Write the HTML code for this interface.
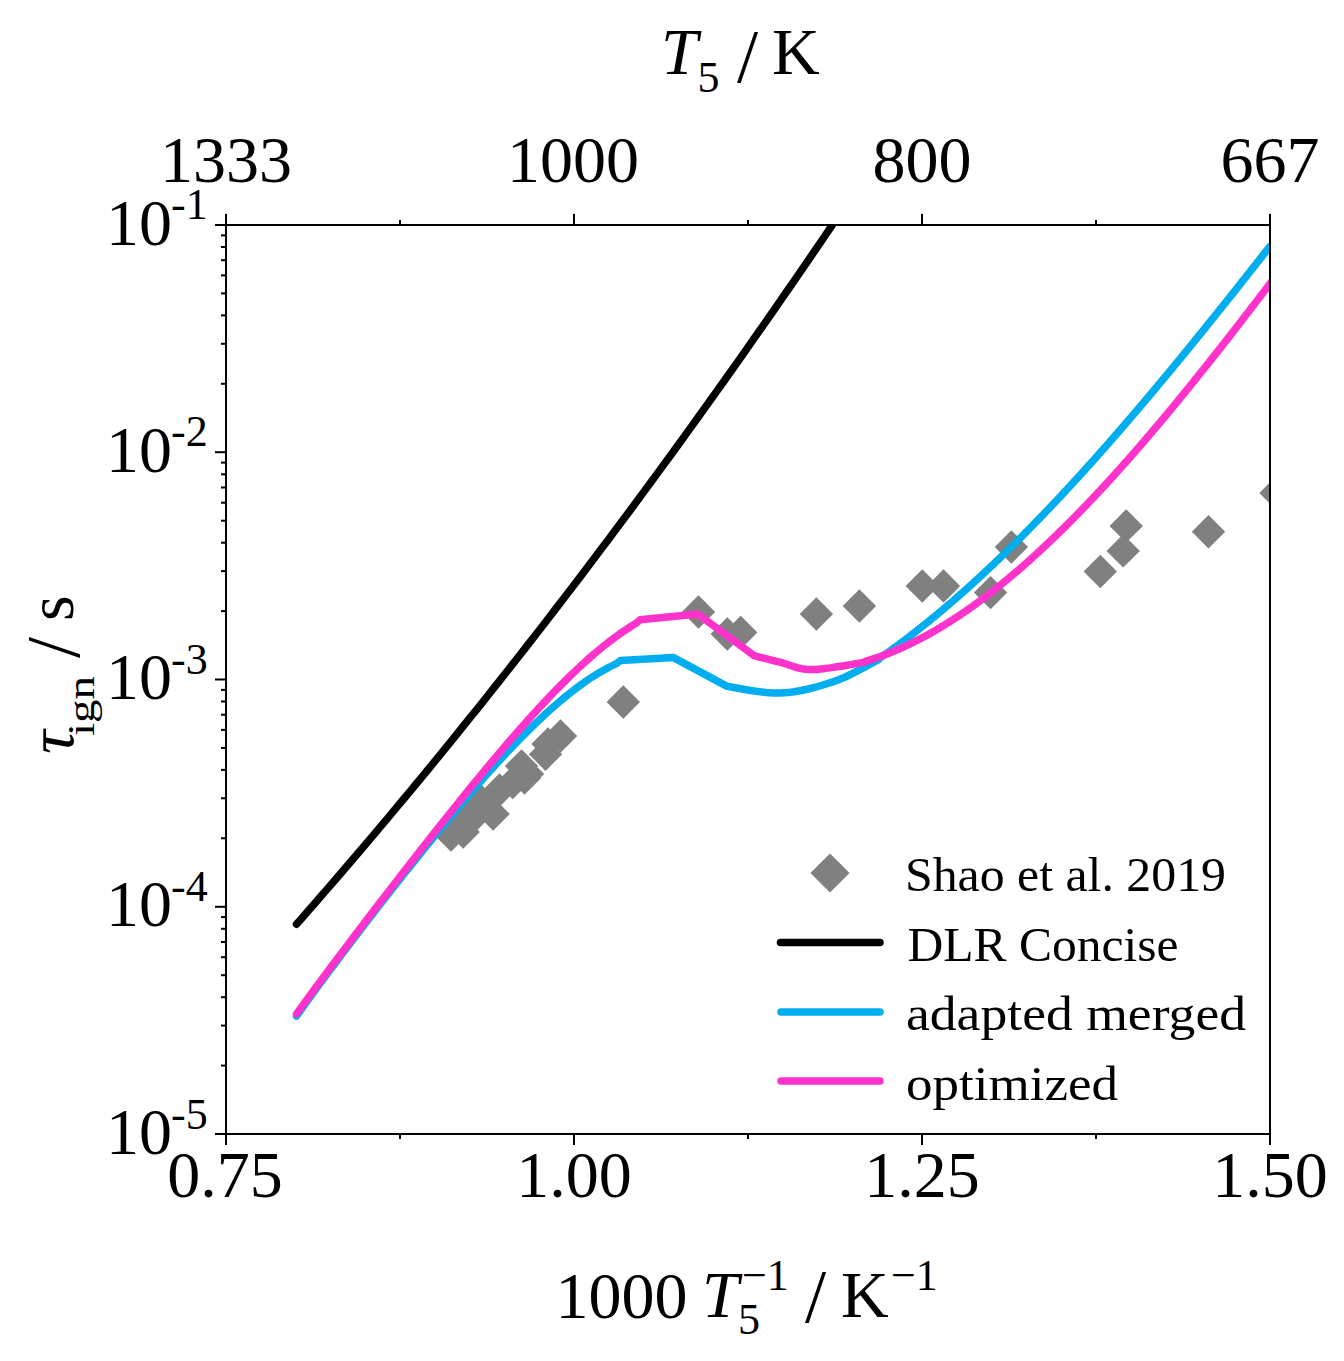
<!DOCTYPE html><html><head><meta charset="utf-8"><style>
html,body{margin:0;padding:0;background:#fff;width:1344px;height:1361px;overflow:hidden}
svg{display:block}
text{font-family:"Liberation Serif",serif;fill:#000}
</style></head><body>
<svg width="1344" height="1361" viewBox="0 0 1344 1361">
<defs><clipPath id="c"><rect x="226" y="225" width="1044" height="909"/></clipPath></defs>
<rect width="1344" height="1361" fill="#fff"/>

<g clip-path="url(#c)" fill="#808080">
<path d="M451.0 818.3L467.7 835.0L451.0 851.7L434.3 835.0Z"/>
<path d="M457.0 804.3L473.7 821.0L457.0 837.7L440.3 821.0Z"/>
<path d="M463.2 815.3L479.9 832.0L463.2 848.7L446.5 832.0Z"/>
<path d="M471.5 802.3L488.2 819.0L471.5 835.7L454.8 819.0Z"/>
<path d="M466.0 796.3L482.7 813.0L466.0 829.7L449.3 813.0Z"/>
<path d="M480.0 783.3L496.7 800.0L480.0 816.7L463.3 800.0Z"/>
<path d="M493.1 797.3L509.8 814.0L493.1 830.7L476.4 814.0Z"/>
<path d="M499.5 773.3L516.2 790.0L499.5 806.7L482.8 790.0Z"/>
<path d="M512.7 765.8L529.4 782.5L512.7 799.2L496.0 782.5Z"/>
<path d="M521.5 749.3L538.2 766.0L521.5 782.7L504.8 766.0Z"/>
<path d="M527.5 757.3L544.2 774.0L527.5 790.7L510.8 774.0Z"/>
<path d="M524.5 761.3L541.2 778.0L524.5 794.7L507.8 778.0Z"/>
<path d="M545.5 737.5L562.2 754.2L545.5 770.9L528.8 754.2Z"/>
<path d="M548.0 727.3L564.7 744.0L548.0 760.7L531.3 744.0Z"/>
<path d="M560.5 719.3L577.2 736.0L560.5 752.7L543.8 736.0Z"/>
<path d="M623.3 685.3L640.0 702.0L623.3 718.7L606.6 702.0Z"/>
<path d="M698.5 595.3L715.2 612.0L698.5 628.7L681.8 612.0Z"/>
<path d="M727.3 617.3L744.0 634.0L727.3 650.7L710.6 634.0Z"/>
<path d="M740.7 615.8L757.4 632.5L740.7 649.2L724.0 632.5Z"/>
<path d="M816.4 597.3L833.1 614.0L816.4 630.7L799.7 614.0Z"/>
<path d="M859.4 589.3L876.1 606.0L859.4 622.7L842.7 606.0Z"/>
<path d="M922.3 569.3L939.0 586.0L922.3 602.7L905.6 586.0Z"/>
<path d="M943.5 569.3L960.2 586.0L943.5 602.7L926.8 586.0Z"/>
<path d="M990.6 575.9L1007.3 592.6L990.6 609.3L973.9 592.6Z"/>
<path d="M1011.4 530.3L1028.1 547.0L1011.4 563.7L994.7 547.0Z"/>
<path d="M1100.3 554.8L1117.0 571.5L1100.3 588.2L1083.6 571.5Z"/>
<path d="M1123.2 534.2L1139.9 550.9L1123.2 567.6L1106.5 550.9Z"/>
<path d="M1126.2 509.2L1142.9 525.9L1126.2 542.6L1109.5 525.9Z"/>
<path d="M1208.5 515.1L1225.2 531.8L1208.5 548.5L1191.8 531.8Z"/>
<path d="M1276.0 476.3L1292.7 493.0L1276.0 509.7L1259.3 493.0Z"/>
</g>
<g clip-path="url(#c)" fill="none" stroke-linejoin="round" stroke-linecap="round">
<polyline points="296.5,924.2 302.5,917.4 308.5,910.6 314.5,903.7 320.5,896.8 326.5,889.9 332.5,883.0 338.5,876.0 344.5,869.0 350.5,862.0 356.5,855.0 362.5,848.0 368.5,840.9 374.5,833.8 380.5,826.7 386.5,819.6 392.5,812.4 398.5,805.2 404.5,798.0 410.5,790.8 416.5,783.5 422.5,776.3 428.5,769.0 434.5,761.7 440.5,754.3 446.5,746.9 452.5,739.6 458.5,732.1 464.5,724.7 470.5,717.2 476.5,709.8 482.5,702.3 488.5,694.7 494.5,687.2 500.5,679.6 506.5,672.0 512.5,664.4 518.5,656.8 524.5,649.1 530.5,641.4 536.5,633.7 542.5,626.0 548.5,618.2 554.5,610.4 560.5,602.6 566.5,594.8 572.5,586.9 578.5,579.1 584.5,571.2 590.5,563.2 596.5,555.3 602.5,547.3 608.5,539.4 614.5,531.3 620.5,523.3 626.5,515.3 632.5,507.2 638.5,499.1 644.5,490.9 650.5,482.8 656.5,474.6 662.5,466.4 668.5,458.2 674.5,450.0 680.5,441.7 686.5,433.4 692.5,425.1 698.5,416.8 704.5,408.4 710.5,400.0 716.5,391.6 722.5,383.2 728.5,374.8 734.5,366.3 740.5,357.8 746.5,349.3 752.5,340.7 758.5,332.2 764.5,323.6 770.5,315.0 776.5,306.4 782.5,297.7 788.5,289.0 794.5,280.3 800.5,271.6 806.5,262.8 812.5,254.1 818.5,245.3 824.5,236.5 830.5,227.6 836.5,218.8 842.5,209.9 848.5,201.0" stroke="#000" stroke-width="7.5"/>
<polyline points="296.5,1016.1 300.5,1010.5 304.5,1004.9 308.5,999.4 312.5,993.9 316.5,988.4 320.5,982.9 324.5,977.5 328.5,972.1 332.5,966.7 336.5,961.4 340.5,956.0 344.5,950.7 348.5,945.4 352.5,940.2 356.5,934.9 360.5,929.7 364.5,924.5 368.5,919.3 372.5,914.1 376.5,908.9 380.5,903.8 384.5,898.7 388.5,893.6 392.5,888.5 396.5,883.4 400.5,878.4 404.5,873.3 408.5,868.3 412.5,863.3 416.5,858.3 420.5,853.3 424.5,848.4 428.5,843.5 432.5,838.6 436.5,833.7 440.5,828.8 444.5,824.0 448.5,819.2 452.5,814.4 456.5,809.6 460.5,804.9 464.5,800.2 468.5,795.5 472.5,790.9 476.5,786.3 480.5,781.7 484.5,777.1 488.5,772.6 492.5,768.2 496.5,763.8 500.5,759.4 504.5,755.1 508.5,750.8 512.5,746.6 516.5,742.4 520.5,738.3 524.5,734.3 528.5,730.3 532.5,726.3 536.5,722.5 540.5,718.7 544.5,714.9 548.5,711.3 552.5,707.7 556.5,704.2 560.5,700.8 564.5,697.5 568.5,694.2 572.5,691.1 576.5,688.0 580.5,685.1 584.5,682.2 588.5,679.5 592.5,676.9 596.5,674.3 600.5,672.0 604.5,669.7 608.5,667.5 612.5,665.5 616.5,663.6 620.5,660.4 673.6,657.6 727.1,686.4 731.2,687.0 736.7,688.0 743.3,689.2 750.6,690.5 758.3,691.6 766.1,692.5 773.7,693.1 780.7,693.1 787.4,692.6 794.3,691.7 801.2,690.5 808.0,689.0 814.7,687.3 821.3,685.5 827.6,683.5 833.6,681.6 839.5,679.4 845.3,677.0 851.1,674.2 856.6,671.4 861.7,668.7 866.4,666.2 870.4,664.0 873.7,662.2 876.1,660.9 877.7,660.1 878.6,659.5 879.0,659.1 879.1,658.9 879.2,658.6 879.5,658.4 880.0,657.9 880.8,657.4 881.5,656.9 882.3,656.4 883.0,655.8 883.8,655.3 884.5,654.8 885.3,654.3 886.0,653.8 886.8,653.2 887.5,652.7 888.2,652.2 889.0,651.6 889.8,651.1 890.5,650.5 891.2,650.0 892.0,649.5 892.8,648.9 893.5,648.4 894.2,647.8 895.0,647.3 895.8,646.7 896.5,646.2 897.2,645.6 898.0,645.1 898.8,644.5 899.5,644.0 900.2,643.4 901.0,642.9 901.8,642.3 902.5,641.8 903.2,641.2 904.0,640.6 904.8,640.1 905.5,639.5 906.2,638.9 907.0,638.4 907.8,637.8 908.5,637.2 909.2,636.7 910.0,636.1 910.8,635.5 911.5,634.9 912.2,634.3 913.0,633.8 913.8,633.2 914.5,632.6 915.2,632.0 916.0,631.4 916.8,630.8 917.5,630.3 918.2,629.7 919.0,629.1 919.8,628.5 920.5,627.9 921.2,627.3 922.0,626.7 922.8,626.1 923.5,625.5 924.2,624.9 925.0,624.3 925.8,623.7 926.5,623.1 927.2,622.5 928.0,621.9 928.8,621.3 929.5,620.7 930.2,620.1 931.0,619.5 931.8,618.8 932.5,618.2 933.2,617.6 934.0,617.0 934.8,616.4 935.5,615.8 936.2,615.1 937.0,614.5 937.8,613.9 938.5,613.3 939.2,612.6 940.0,612.0 940.8,611.4 941.5,610.8 942.2,610.1 943.0,609.5 943.8,608.9 944.5,608.2 945.2,607.6 946.0,607.0 946.8,606.3 947.5,605.7 948.2,605.0 949.0,604.4 949.8,603.7 950.5,603.1 951.2,602.5 952.0,601.8 952.8,601.2 953.5,600.5 954.2,599.9 955.0,599.2 955.8,598.6 956.5,597.9 957.2,597.2 958.0,596.6 958.8,595.9 959.5,595.3 960.2,594.6 961.0,593.9 961.8,593.3 962.5,592.6 963.2,592.0 964.0,591.3 964.8,590.6 965.5,589.9 966.2,589.3 967.0,588.6 967.8,587.9 968.5,587.3 969.2,586.6 970.0,585.9 970.8,585.2 971.5,584.6 972.2,583.9 973.0,583.2 973.8,582.5 974.5,581.8 975.2,581.1 976.0,580.5 976.8,579.8 977.5,579.1 978.2,578.4 979.0,577.7 979.8,577.0 980.5,576.3 981.2,575.6 982.0,574.9 982.8,574.2 983.5,573.5 984.2,572.8 985.0,572.1 985.8,571.4 986.5,570.7 987.2,570.0 988.0,569.3 988.8,568.6 989.5,567.9 990.2,567.2 991.0,566.5 991.8,565.8 992.5,565.1 993.2,564.4 994.0,563.7 994.8,562.9 995.5,562.2 996.2,561.5 997.0,560.8 997.8,560.1 998.5,559.4 999.2,558.6 1000.0,557.9 1000.8,557.2 1001.5,556.5 1002.2,555.7 1003.0,555.0 1003.8,554.3 1004.5,553.6 1005.2,552.8 1006.0,552.1 1006.8,551.4 1007.5,550.6 1008.2,549.9 1009.0,549.2 1009.8,548.4 1010.5,547.7 1011.2,547.0 1012.0,546.2 1012.8,545.5 1013.5,544.7 1014.2,544.0 1015.0,543.3 1015.8,542.5 1016.5,541.8 1017.2,541.0 1018.0,540.3 1018.8,539.5 1019.5,538.8 1020.2,538.0 1021.0,537.3 1021.8,536.5 1022.5,535.8 1023.2,535.0 1024.0,534.3 1024.8,533.5 1025.5,532.7 1026.2,532.0 1027.0,531.2 1027.8,530.5 1028.5,529.7 1029.2,528.9 1030.0,528.2 1030.8,527.4 1031.5,526.7 1032.2,525.9 1033.0,525.1 1033.8,524.4 1034.5,523.6 1035.2,522.8 1036.0,522.0 1036.8,521.3 1037.5,520.5 1038.2,519.7 1039.0,518.9 1039.8,518.2 1040.5,517.4 1041.2,516.6 1042.0,515.8 1042.8,515.1 1043.5,514.3 1044.2,513.5 1045.0,512.7 1045.8,511.9 1046.5,511.1 1047.2,510.4 1048.0,509.6 1048.8,508.8 1049.5,508.0 1050.2,507.2 1051.0,506.4 1051.8,505.6 1052.5,504.8 1053.2,504.0 1054.0,503.2 1054.8,502.5 1055.5,501.7 1056.2,500.9 1057.0,500.1 1057.8,499.3 1058.5,498.5 1059.2,497.7 1060.0,496.9 1060.8,496.1 1061.5,495.3 1062.2,494.5 1063.0,493.7 1063.8,492.8 1064.5,492.0 1065.2,491.2 1066.0,490.4 1066.8,489.6 1067.5,488.8 1068.2,488.0 1069.0,487.2 1069.8,486.4 1070.5,485.6 1071.2,484.7 1072.0,483.9 1072.8,483.1 1073.5,482.3 1074.2,481.5 1075.0,480.7 1075.8,479.8 1076.5,479.0 1077.2,478.2 1078.0,477.4 1078.8,476.6 1079.5,475.7 1080.2,474.9 1081.0,474.1 1081.8,473.3 1082.5,472.4 1083.2,471.6 1084.0,470.8 1084.8,470.0 1085.5,469.1 1086.2,468.3 1087.0,467.5 1087.8,466.6 1088.5,465.8 1089.2,465.0 1090.0,464.1 1090.8,463.3 1091.5,462.5 1092.2,461.6 1093.0,460.8 1093.8,459.9 1094.5,459.1 1095.2,458.3 1096.0,457.4 1096.8,456.6 1097.5,455.7 1098.2,454.9 1099.0,454.0 1099.8,453.2 1100.5,452.4 1101.2,451.5 1102.0,450.7 1102.8,449.8 1103.5,449.0 1104.2,448.1 1105.0,447.3 1105.8,446.4 1106.5,445.6 1107.2,444.7 1108.0,443.9 1108.8,443.0 1109.5,442.1 1110.2,441.3 1111.0,440.4 1111.8,439.6 1112.5,438.7 1113.2,437.9 1114.0,437.0 1114.8,436.1 1115.5,435.3 1116.2,434.4 1117.0,433.6 1117.8,432.7 1118.5,431.8 1119.2,431.0 1120.0,430.1 1120.8,429.2 1121.5,428.4 1122.2,427.5 1123.0,426.6 1123.8,425.8 1124.5,424.9 1125.2,424.0 1126.0,423.2 1126.8,422.3 1127.5,421.4 1128.2,420.5 1129.0,419.7 1129.8,418.8 1130.5,417.9 1131.2,417.1 1132.0,416.2 1132.8,415.3 1133.5,414.4 1134.2,413.5 1135.0,412.7 1135.8,411.8 1136.5,410.9 1137.2,410.0 1138.0,409.1 1138.8,408.3 1139.5,407.4 1140.2,406.5 1141.0,405.6 1141.8,404.7 1142.5,403.9 1143.2,403.0 1144.0,402.1 1144.8,401.2 1145.5,400.3 1146.2,399.4 1147.0,398.5 1147.8,397.6 1148.5,396.8 1149.2,395.9 1150.0,395.0 1150.8,394.1 1151.5,393.2 1152.2,392.3 1153.0,391.4 1153.8,390.5 1154.5,389.6 1155.2,388.7 1156.0,387.8 1156.8,386.9 1157.5,386.0 1158.2,385.1 1159.0,384.2 1159.8,383.3 1160.5,382.4 1161.2,381.5 1162.0,380.6 1162.8,379.7 1163.5,378.8 1164.2,377.9 1165.0,377.0 1165.8,376.1 1166.5,375.2 1167.2,374.3 1168.0,373.4 1168.8,372.5 1169.5,371.6 1170.2,370.7 1171.0,369.8 1171.8,368.9 1172.5,368.0 1173.2,367.1 1174.0,366.2 1174.8,365.2 1175.5,364.3 1176.2,363.4 1177.0,362.5 1177.8,361.6 1178.5,360.7 1179.2,359.8 1180.0,358.9 1180.8,358.0 1181.5,357.0 1182.2,356.1 1183.0,355.2 1183.8,354.3 1184.5,353.4 1185.2,352.5 1186.0,351.5 1186.8,350.6 1187.5,349.7 1188.2,348.8 1189.0,347.9 1189.8,346.9 1190.5,346.0 1191.2,345.1 1192.0,344.2 1192.8,343.3 1193.5,342.3 1194.2,341.4 1195.0,340.5 1195.8,339.6 1196.5,338.6 1197.2,337.7 1198.0,336.8 1198.8,335.9 1199.5,335.0 1200.2,334.0 1201.0,333.1 1201.8,332.2 1202.5,331.2 1203.2,330.3 1204.0,329.4 1204.8,328.5 1205.5,327.5 1206.2,326.6 1207.0,325.7 1207.8,324.7 1208.5,323.8 1209.2,322.9 1210.0,321.9 1210.8,321.0 1211.5,320.1 1212.2,319.1 1213.0,318.2 1213.8,317.3 1214.5,316.3 1215.2,315.4 1216.0,314.5 1216.8,313.5 1217.5,312.6 1218.2,311.7 1219.0,310.7 1219.8,309.8 1220.5,308.9 1221.2,307.9 1222.0,307.0 1222.8,306.0 1223.5,305.1 1224.2,304.2 1225.0,303.2 1225.8,302.3 1226.5,301.3 1227.2,300.4 1228.0,299.5 1228.8,298.5 1229.5,297.6 1230.2,296.6 1231.0,295.7 1231.8,294.8 1232.5,293.8 1233.2,292.9 1234.0,291.9 1234.8,291.0 1235.5,290.0 1236.2,289.1 1237.0,288.2 1237.8,287.2 1238.5,286.3 1239.2,285.3 1240.0,284.4 1240.8,283.4 1241.5,282.5 1242.2,281.5 1243.0,280.6 1243.8,279.6 1244.5,278.7 1245.2,277.7 1246.0,276.8 1246.8,275.8 1247.5,274.9 1248.2,273.9 1249.0,273.0 1249.8,272.0 1250.5,271.1 1251.2,270.1 1252.0,269.2 1252.8,268.2 1253.5,267.3 1254.2,266.3 1255.0,265.4 1255.8,264.4 1256.5,263.5 1257.2,262.5 1258.0,261.6 1258.8,260.6 1259.5,259.7 1260.2,258.7 1261.0,257.8 1261.8,256.8 1262.5,255.8 1263.2,254.9 1264.0,253.9 1264.8,252.9 1265.6,251.8 1266.5,250.7 1267.4,249.6 1268.2,248.6 1268.9,247.7 1269.5,246.9 1270.0,246.3" stroke="#00AEEF" stroke-width="7.5"/>
<polyline points="296.5,1013.9 300.5,1008.4 304.5,1002.9 308.5,997.5 312.5,992.0 316.5,986.6 320.5,981.2 324.5,975.8 328.5,970.5 332.5,965.1 336.5,959.8 340.5,954.5 344.5,949.2 348.5,943.9 352.5,938.6 356.5,933.3 360.5,928.0 364.5,922.8 368.5,917.6 372.5,912.3 376.5,907.1 380.5,901.9 384.5,896.7 388.5,891.5 392.5,886.3 396.5,881.2 400.5,876.0 404.5,870.9 408.5,865.7 412.5,860.6 416.5,855.5 420.5,850.4 424.5,845.3 428.5,840.2 432.5,835.1 436.5,830.1 440.5,825.0 444.5,820.0 448.5,815.0 452.5,810.0 456.5,805.0 460.5,800.0 464.5,795.1 468.5,790.1 472.5,785.2 476.5,780.4 480.5,775.5 484.5,770.7 488.5,765.9 492.5,761.1 496.5,756.3 500.5,751.6 504.5,746.9 508.5,742.2 512.5,737.6 516.5,733.0 520.5,728.5 524.5,724.0 528.5,719.5 532.5,715.1 536.5,710.7 540.5,706.3 544.5,702.1 548.5,697.8 552.5,693.7 556.5,689.5 560.5,685.5 564.5,681.5 568.5,677.5 572.5,673.7 576.5,669.9 580.5,666.1 584.5,662.5 588.5,658.9 592.5,655.4 596.5,652.0 600.5,648.7 604.5,645.4 608.5,642.3 612.5,639.2 616.5,636.2 620.5,633.4 624.5,630.6 628.5,628.0 632.5,625.4 636.5,623.0 640.1,619.8 697.7,614.1 753.9,655.6 755.9,656.1 758.5,656.8 761.6,657.6 765.0,658.4 768.7,659.4 772.5,660.3 776.3,661.3 780.0,662.2 783.5,663.2 786.9,664.3 790.4,665.5 793.9,666.7 797.7,667.8 801.7,668.7 806.0,669.3 810.8,669.6 816.4,669.4 822.9,668.8 830.0,667.9 837.2,666.8 844.2,665.7 850.7,664.6 856.2,663.6 860.4,662.9 863.2,662.4 864.9,662.1 865.7,661.9 865.9,661.7 865.8,661.6 865.6,661.5 865.6,661.3 866.0,661.1 866.7,660.9 867.5,660.7 868.2,660.4 869.0,660.2 869.7,660.0 870.5,659.7 871.2,659.5 872.0,659.3 872.8,659.0 873.5,658.8 874.2,658.5 875.0,658.3 875.8,658.0 876.5,657.8 877.2,657.5 878.0,657.3 878.8,657.0 879.5,656.7 880.2,656.5 881.0,656.2 881.8,655.9 882.5,655.6 883.2,655.4 884.0,655.1 884.8,654.8 885.5,654.5 886.2,654.2 887.0,653.9 887.8,653.6 888.5,653.4 889.2,653.1 890.0,652.8 890.8,652.5 891.5,652.2 892.2,651.8 893.0,651.5 893.8,651.2 894.5,650.9 895.2,650.6 896.0,650.3 896.8,650.0 897.5,649.6 898.2,649.3 899.0,649.0 899.8,648.7 900.5,648.3 901.2,648.0 902.0,647.7 902.8,647.3 903.5,647.0 904.2,646.6 905.0,646.3 905.8,645.9 906.5,645.6 907.2,645.2 908.0,644.9 908.8,644.5 909.5,644.2 910.2,643.8 911.0,643.4 911.8,643.1 912.5,642.7 913.2,642.3 914.0,642.0 914.8,641.6 915.5,641.2 916.2,640.8 917.0,640.5 917.8,640.1 918.5,639.7 919.2,639.3 920.0,638.9 920.8,638.5 921.5,638.1 922.2,637.7 923.0,637.3 923.8,636.9 924.5,636.5 925.2,636.1 926.0,635.7 926.8,635.3 927.5,634.9 928.2,634.5 929.0,634.1 929.8,633.6 930.5,633.2 931.2,632.8 932.0,632.4 932.8,631.9 933.5,631.5 934.2,631.1 935.0,630.6 935.8,630.2 936.5,629.8 937.2,629.3 938.0,628.9 938.8,628.4 939.5,628.0 940.2,627.5 941.0,627.1 941.8,626.6 942.5,626.2 943.2,625.7 944.0,625.3 944.8,624.8 945.5,624.3 946.2,623.9 947.0,623.4 947.8,622.9 948.5,622.5 949.2,622.0 950.0,621.5 950.8,621.0 951.5,620.6 952.2,620.1 953.0,619.6 953.8,619.1 954.5,618.6 955.2,618.1 956.0,617.6 956.8,617.2 957.5,616.7 958.2,616.2 959.0,615.7 959.8,615.2 960.5,614.7 961.2,614.1 962.0,613.6 962.8,613.1 963.5,612.6 964.2,612.1 965.0,611.6 965.8,611.1 966.5,610.6 967.2,610.0 968.0,609.5 968.8,609.0 969.5,608.5 970.2,607.9 971.0,607.4 971.8,606.9 972.5,606.3 973.2,605.8 974.0,605.2 974.8,604.7 975.5,604.2 976.2,603.6 977.0,603.1 977.8,602.5 978.5,602.0 979.2,601.4 980.0,600.9 980.8,600.3 981.5,599.7 982.2,599.2 983.0,598.6 983.8,598.1 984.5,597.5 985.2,596.9 986.0,596.4 986.8,595.8 987.5,595.2 988.2,594.6 989.0,594.1 989.8,593.5 990.5,592.9 991.2,592.3 992.0,591.7 992.8,591.2 993.5,590.6 994.2,590.0 995.0,589.4 995.8,588.8 996.5,588.2 997.2,587.6 998.0,587.0 998.8,586.4 999.5,585.8 1000.2,585.2 1001.0,584.6 1001.8,584.0 1002.5,583.4 1003.2,582.8 1004.0,582.1 1004.8,581.5 1005.5,580.9 1006.2,580.3 1007.0,579.7 1007.8,579.1 1008.5,578.4 1009.2,577.8 1010.0,577.2 1010.8,576.6 1011.5,575.9 1012.2,575.3 1013.0,574.7 1013.8,574.0 1014.5,573.4 1015.2,572.7 1016.0,572.1 1016.8,571.5 1017.5,570.8 1018.2,570.2 1019.0,569.5 1019.8,568.9 1020.5,568.2 1021.2,567.6 1022.0,566.9 1022.8,566.3 1023.5,565.6 1024.2,564.9 1025.0,564.3 1025.8,563.6 1026.5,563.0 1027.2,562.3 1028.0,561.6 1028.8,561.0 1029.5,560.3 1030.2,559.6 1031.0,558.9 1031.8,558.3 1032.5,557.6 1033.2,556.9 1034.0,556.2 1034.8,555.5 1035.5,554.9 1036.2,554.2 1037.0,553.5 1037.8,552.8 1038.5,552.1 1039.2,551.4 1040.0,550.7 1040.8,550.0 1041.5,549.3 1042.2,548.6 1043.0,547.9 1043.8,547.2 1044.5,546.5 1045.2,545.8 1046.0,545.1 1046.8,544.4 1047.5,543.7 1048.2,543.0 1049.0,542.3 1049.8,541.6 1050.5,540.9 1051.2,540.2 1052.0,539.4 1052.8,538.7 1053.5,538.0 1054.2,537.3 1055.0,536.6 1055.8,535.8 1056.5,535.1 1057.2,534.4 1058.0,533.6 1058.8,532.9 1059.5,532.2 1060.2,531.4 1061.0,530.7 1061.8,530.0 1062.5,529.2 1063.2,528.5 1064.0,527.8 1064.8,527.0 1065.5,526.3 1066.2,525.5 1067.0,524.8 1067.8,524.0 1068.5,523.3 1069.2,522.5 1070.0,521.8 1070.8,521.0 1071.5,520.3 1072.2,519.5 1073.0,518.8 1073.8,518.0 1074.5,517.2 1075.2,516.5 1076.0,515.7 1076.8,514.9 1077.5,514.2 1078.2,513.4 1079.0,512.6 1079.8,511.9 1080.5,511.1 1081.2,510.3 1082.0,509.6 1082.8,508.8 1083.5,508.0 1084.2,507.2 1085.0,506.4 1085.8,505.7 1086.5,504.9 1087.2,504.1 1088.0,503.3 1088.8,502.5 1089.5,501.7 1090.2,500.9 1091.0,500.2 1091.8,499.4 1092.5,498.6 1093.2,497.8 1094.0,497.0 1094.8,496.2 1095.5,495.4 1096.2,494.6 1097.0,493.8 1097.8,493.0 1098.5,492.2 1099.2,491.4 1100.0,490.6 1100.8,489.8 1101.5,489.0 1102.2,488.2 1103.0,487.3 1103.8,486.5 1104.5,485.7 1105.2,484.9 1106.0,484.1 1106.8,483.3 1107.5,482.5 1108.2,481.6 1109.0,480.8 1109.8,480.0 1110.5,479.2 1111.2,478.3 1112.0,477.5 1112.8,476.7 1113.5,475.9 1114.2,475.0 1115.0,474.2 1115.8,473.4 1116.5,472.5 1117.2,471.7 1118.0,470.9 1118.8,470.0 1119.5,469.2 1120.2,468.4 1121.0,467.5 1121.8,466.7 1122.5,465.9 1123.2,465.0 1124.0,464.2 1124.8,463.3 1125.5,462.5 1126.2,461.6 1127.0,460.8 1127.8,459.9 1128.5,459.1 1129.2,458.2 1130.0,457.4 1130.8,456.5 1131.5,455.7 1132.2,454.8 1133.0,454.0 1133.8,453.1 1134.5,452.2 1135.2,451.4 1136.0,450.5 1136.8,449.7 1137.5,448.8 1138.2,447.9 1139.0,447.1 1139.8,446.2 1140.5,445.3 1141.2,444.5 1142.0,443.6 1142.8,442.7 1143.5,441.9 1144.2,441.0 1145.0,440.1 1145.8,439.2 1146.5,438.4 1147.2,437.5 1148.0,436.6 1148.8,435.7 1149.5,434.9 1150.2,434.0 1151.0,433.1 1151.8,432.2 1152.5,431.3 1153.2,430.5 1154.0,429.6 1154.8,428.7 1155.5,427.8 1156.2,426.9 1157.0,426.0 1157.8,425.1 1158.5,424.2 1159.2,423.3 1160.0,422.5 1160.8,421.6 1161.5,420.7 1162.2,419.8 1163.0,418.9 1163.8,418.0 1164.5,417.1 1165.2,416.2 1166.0,415.3 1166.8,414.4 1167.5,413.5 1168.2,412.6 1169.0,411.7 1169.8,410.8 1170.5,409.9 1171.2,409.0 1172.0,408.1 1172.8,407.1 1173.5,406.2 1174.2,405.3 1175.0,404.4 1175.8,403.5 1176.5,402.6 1177.2,401.7 1178.0,400.8 1178.8,399.9 1179.5,398.9 1180.2,398.0 1181.0,397.1 1181.8,396.2 1182.5,395.3 1183.2,394.4 1184.0,393.4 1184.8,392.5 1185.5,391.6 1186.2,390.7 1187.0,389.7 1187.8,388.8 1188.5,387.9 1189.2,387.0 1190.0,386.1 1190.8,385.1 1191.5,384.2 1192.2,383.3 1193.0,382.3 1193.8,381.4 1194.5,380.5 1195.2,379.5 1196.0,378.6 1196.8,377.7 1197.5,376.7 1198.2,375.8 1199.0,374.9 1199.8,373.9 1200.5,373.0 1201.2,372.1 1202.0,371.1 1202.8,370.2 1203.5,369.3 1204.2,368.3 1205.0,367.4 1205.8,366.4 1206.5,365.5 1207.2,364.6 1208.0,363.6 1208.8,362.7 1209.5,361.7 1210.2,360.8 1211.0,359.8 1211.8,358.9 1212.5,357.9 1213.2,357.0 1214.0,356.0 1214.8,355.1 1215.5,354.1 1216.2,353.2 1217.0,352.2 1217.8,351.3 1218.5,350.3 1219.2,349.4 1220.0,348.4 1220.8,347.5 1221.5,346.5 1222.2,345.6 1223.0,344.6 1223.8,343.7 1224.5,342.7 1225.2,341.7 1226.0,340.8 1226.8,339.8 1227.5,338.9 1228.2,337.9 1229.0,336.9 1229.8,336.0 1230.5,335.0 1231.2,334.1 1232.0,333.1 1232.8,332.1 1233.5,331.2 1234.2,330.2 1235.0,329.2 1235.8,328.3 1236.5,327.3 1237.2,326.3 1238.0,325.4 1238.8,324.4 1239.5,323.4 1240.2,322.5 1241.0,321.5 1241.8,320.5 1242.5,319.6 1243.2,318.6 1244.0,317.6 1244.8,316.7 1245.5,315.7 1246.2,314.7 1247.0,313.7 1247.8,312.8 1248.5,311.8 1249.2,310.8 1250.0,309.8 1250.8,308.9 1251.5,307.9 1252.2,306.9 1253.0,305.9 1253.8,305.0 1254.5,304.0 1255.2,303.0 1256.0,302.0 1256.8,301.1 1257.5,300.1 1258.2,299.1 1259.0,298.1 1259.8,297.1 1260.5,296.2 1261.2,295.2 1262.0,294.2 1262.8,293.2 1263.5,292.2 1264.2,291.3 1265.0,290.3 1265.8,289.3 1266.5,288.3 1267.2,287.3 1268.0,286.3 1268.8,285.3 1269.6,284.2 1270.5,283.0 1271.4,281.9 1272.2,280.8 1272.9,279.9 1273.5,279.1 1274.0,278.5" stroke="#FF33CC" stroke-width="7.5"/>
</g>
<g stroke="#000" stroke-width="2" fill="none">
<rect x="226" y="225" width="1044" height="909"/>
<line x1="226.0" y1="1134" x2="226.0" y2="1145"/>
<line x1="226.0" y1="225" x2="226.0" y2="214"/>
<line x1="400.0" y1="1134" x2="400.0" y2="1139"/>
<line x1="400.0" y1="225" x2="400.0" y2="220"/>
<line x1="574.0" y1="1134" x2="574.0" y2="1145"/>
<line x1="574.0" y1="225" x2="574.0" y2="214"/>
<line x1="748.0" y1="1134" x2="748.0" y2="1139"/>
<line x1="748.0" y1="225" x2="748.0" y2="220"/>
<line x1="922.0" y1="1134" x2="922.0" y2="1145"/>
<line x1="922.0" y1="225" x2="922.0" y2="214"/>
<line x1="1096.0" y1="1134" x2="1096.0" y2="1139"/>
<line x1="1096.0" y1="225" x2="1096.0" y2="220"/>
<line x1="1270.0" y1="1134" x2="1270.0" y2="1145"/>
<line x1="1270.0" y1="225" x2="1270.0" y2="214"/>
<line x1="226" y1="1134.0" x2="215" y2="1134.0"/>
<line x1="226" y1="1065.6" x2="221" y2="1065.6"/>
<line x1="226" y1="1025.6" x2="221" y2="1025.6"/>
<line x1="226" y1="997.2" x2="221" y2="997.2"/>
<line x1="226" y1="975.2" x2="221" y2="975.2"/>
<line x1="226" y1="957.2" x2="221" y2="957.2"/>
<line x1="226" y1="942.0" x2="221" y2="942.0"/>
<line x1="226" y1="928.8" x2="221" y2="928.8"/>
<line x1="226" y1="917.1" x2="221" y2="917.1"/>
<line x1="226" y1="906.8" x2="215" y2="906.8"/>
<line x1="226" y1="838.3" x2="221" y2="838.3"/>
<line x1="226" y1="798.3" x2="221" y2="798.3"/>
<line x1="226" y1="769.9" x2="221" y2="769.9"/>
<line x1="226" y1="747.9" x2="221" y2="747.9"/>
<line x1="226" y1="729.9" x2="221" y2="729.9"/>
<line x1="226" y1="714.7" x2="221" y2="714.7"/>
<line x1="226" y1="701.5" x2="221" y2="701.5"/>
<line x1="226" y1="689.9" x2="221" y2="689.9"/>
<line x1="226" y1="679.5" x2="215" y2="679.5"/>
<line x1="226" y1="611.1" x2="221" y2="611.1"/>
<line x1="226" y1="571.1" x2="221" y2="571.1"/>
<line x1="226" y1="542.7" x2="221" y2="542.7"/>
<line x1="226" y1="520.7" x2="221" y2="520.7"/>
<line x1="226" y1="502.7" x2="221" y2="502.7"/>
<line x1="226" y1="487.5" x2="221" y2="487.5"/>
<line x1="226" y1="474.3" x2="221" y2="474.3"/>
<line x1="226" y1="462.6" x2="221" y2="462.6"/>
<line x1="226" y1="452.2" x2="215" y2="452.2"/>
<line x1="226" y1="383.8" x2="221" y2="383.8"/>
<line x1="226" y1="343.8" x2="221" y2="343.8"/>
<line x1="226" y1="315.4" x2="221" y2="315.4"/>
<line x1="226" y1="293.4" x2="221" y2="293.4"/>
<line x1="226" y1="275.4" x2="221" y2="275.4"/>
<line x1="226" y1="260.2" x2="221" y2="260.2"/>
<line x1="226" y1="247.0" x2="221" y2="247.0"/>
<line x1="226" y1="235.4" x2="221" y2="235.4"/>
<line x1="226" y1="225.0" x2="215" y2="225.0"/>
</g>
<g font-size="66">
<text x="226" y="182" text-anchor="middle">1333</text>
<text x="573" y="182" text-anchor="middle">1000</text>
<text x="922" y="182" text-anchor="middle">800</text>
<text x="1270" y="182" text-anchor="middle">667</text>
<text x="225" y="1196.5" text-anchor="middle">0.75</text>
<text x="574" y="1196.5" text-anchor="middle">1.00</text>
<text x="922" y="1196.5" text-anchor="middle">1.25</text>
<text x="1270" y="1196.5" text-anchor="middle">1.50</text>
</g>
<g font-size="66">
<text x="106" y="244.5">10</text><text x="171" y="219" font-size="44">-1</text>
<text x="106" y="471.8">10</text><text x="171" y="446.3" font-size="44">-2</text>
<text x="106" y="699">10</text><text x="171" y="673.8" font-size="44">-3</text>
<text x="106" y="926.3">10</text><text x="171" y="901" font-size="44">-4</text>
<text x="106" y="1153.8">10</text><text x="171" y="1128.5" font-size="44">-5</text>
</g>
<g font-size="66">
<text x="661" y="74" font-style="italic">T</text><text x="697.5" y="92" font-size="44">5</text><text x="737" y="81.5" font-size="76">/</text><text x="772" y="74">K</text>
<text x="555.5" y="1317.5">1000</text>
<text x="702" y="1317" font-style="italic">T</text>
<text x="738" y="1333.5" font-size="44">5</text>
<text x="742" y="1290" font-size="44">−1</text>
<text x="805" y="1321.5" font-size="76">/</text><text x="841" y="1317">K</text>
<text x="891" y="1290" font-size="44">−1</text>
</g>
<g font-size="66" transform="translate(73,754) rotate(-90)">
<text x="0" y="0" font-style="italic">τ</text>
<text x="18" y="20.8" font-size="38" textLength="60" lengthAdjust="spacingAndGlyphs">ign</text>
<text x="96" y="6" font-size="76">/</text>
<text x="133" y="0">s</text>
</g>
<g font-size="48">
<text x="905" y="891" textLength="321" lengthAdjust="spacingAndGlyphs">Shao et al. 2019</text>
<text x="907.5" y="960.5" textLength="271" lengthAdjust="spacingAndGlyphs">DLR Concise</text>
<text x="906" y="1029.6" textLength="340" lengthAdjust="spacingAndGlyphs">adapted merged</text>
<text x="906" y="1099.8" textLength="212" lengthAdjust="spacingAndGlyphs">optimized</text>
</g>

<g stroke-linecap="round" stroke-width="7.5">
<line x1="780.5" y1="942.5" x2="880" y2="942.5" stroke="#000"/>
<line x1="781" y1="1012" x2="880" y2="1012" stroke="#00AEEF"/>
<line x1="781" y1="1081" x2="880" y2="1081" stroke="#FF33CC"/>
</g>
<path fill="#808080" d="M830 853.4L849.6 873L830 892.6L810.4 873Z"/>
</svg></body></html>
